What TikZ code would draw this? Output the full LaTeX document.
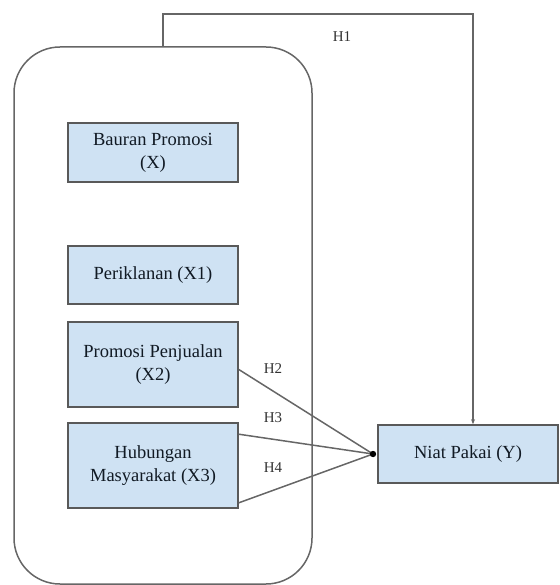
\documentclass[tikz,border=0pt]{standalone}
\usepackage{fontspec}
\setmainfont{Liberation Serif}
\newfontfamily\tmsfont{Liberation Serif}
\usetikzlibrary{calc,arrows.meta}
\definecolor{boxfill}{HTML}{CFE2F3}
\definecolor{boxline}{HTML}{595959}
\definecolor{lineclr}{HTML}{666666}
\definecolor{txtclr}{HTML}{111A24}
\definecolor{lblclr}{HTML}{333333}
\tikzset{
  varbox/.style={draw=boxline, line width=1.6pt, fill=boxfill, minimum width=170pt, align=center, inner sep=2pt, text=txtclr, font=\tmsfont\fontsize{18.5}{23}\selectfont},
  grpbox/.style={draw=lineclr, line width=1.5pt, rounded corners=46pt, minimum width=298pt, minimum height=537pt, inner sep=0pt},
  conn/.style={draw=lineclr, line width=1.5pt},
  hlabel/.style={text=lblclr, font=\tmsfont\fontsize{15}{18}\selectfont, inner sep=0pt}
}
\begin{document}
\begin{tikzpicture}[x=1pt, y=-1pt]
\useasboundingbox (0,0) rectangle (559,585);
\node[grpbox] (grp) at (163,315.5) {};
\node[varbox, minimum height=59pt] (bauran) at (153,152.5) {Bauran Promosi\\(X)};
\node[varbox, minimum height=58pt] (iklan) at (153,275) {Periklanan (X1)};
\node[varbox, minimum height=85pt] (promo) at (153,364.5) {Promosi Penjualan\\(X2)};
\node[varbox, minimum height=85pt] (hub) at (153,465.5) {Hubungan\\Masyarakat (X3)};
\node[varbox, minimum width=180pt, minimum height=58pt] (niat) at (468,454) {Niat Pakai (Y)};
\coordinate (c1) at (473,14);
\coordinate (j) at (373,454);
\draw[conn, -{Stealth[length=5pt,width=4pt]}] (grp.north) |- (c1) -- (c1 |- niat.north);
\draw[conn] ($(promo.east)+(0,5)$) -- (j);
\draw[conn] ($(hub.north east)+(0,12)$) -- (j);
\draw[conn] ($(hub.south east)+(0,-6)$) -- (j);
\fill[black] (j) circle (3.2pt);
\node[hlabel] (h1) at (342,37) {H1};
\node[hlabel] (h2) at (273,369) {H2};
\node[hlabel] (h3) at (273,418) {H3};
\node[hlabel] (h4) at (273,468) {H4};
\end{tikzpicture}
\end{document}
